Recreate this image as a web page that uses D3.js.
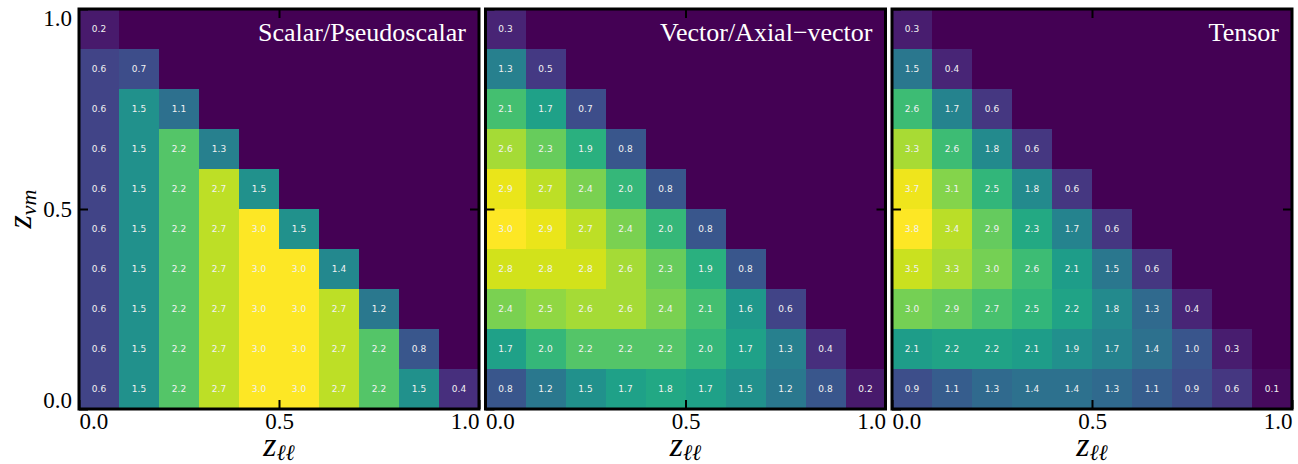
<!DOCTYPE html>
<html>
<head>
<meta charset="utf-8">
<script src="https://cdn.jsdelivr.net/npm/d3@7"></script>
<style>
  body { margin: 0; background: #fff; }
  svg { display: block; }
</style>
</head>
<body>
<div id="chart"></div>
<script>
// panel titles
var titles = ["Scalar/Pseudoscalar", "Vector/Axial\u2212vector", "Tensor"];

// bin edges along both axes (10 bins from 0 to 1)
var binEdges = [0, 0.1, 0.2, 0.3, 0.4, 0.5, 0.6, 0.7, 0.8, 0.9, 1.0];
var tickValues = [0, 0.5, 1];
var tickLabels = ["0.0", "0.5", "1.0"];

// values per row, row 0 = bottom (z_vm 0.0-0.1), columns from z_ll = 0
var scalar = [
  [0.6, 1.5, 2.2, 2.7, 3.0, 3.0, 2.7, 2.2, 1.5, 0.4],
  [0.6, 1.5, 2.2, 2.7, 3.0, 3.0, 2.7, 2.2, 0.8],
  [0.6, 1.5, 2.2, 2.7, 3.0, 3.0, 2.7, 1.2],
  [0.6, 1.5, 2.2, 2.7, 3.0, 3.0, 1.4],
  [0.6, 1.5, 2.2, 2.7, 3.0, 1.5],
  [0.6, 1.5, 2.2, 2.7, 1.5],
  [0.6, 1.5, 2.2, 1.3],
  [0.6, 1.5, 1.1],
  [0.6, 0.7],
  [0.2]
];
var vector = [
  [0.8, 1.2, 1.5, 1.7, 1.8, 1.7, 1.5, 1.2, 0.8, 0.2],
  [1.7, 2.0, 2.2, 2.2, 2.2, 2.0, 1.7, 1.3, 0.4],
  [2.4, 2.5, 2.6, 2.6, 2.4, 2.1, 1.6, 0.6],
  [2.8, 2.8, 2.8, 2.6, 2.3, 1.9, 0.8],
  [3.0, 2.9, 2.7, 2.4, 2.0, 0.8],
  [2.9, 2.7, 2.4, 2.0, 0.8],
  [2.6, 2.3, 1.9, 0.8],
  [2.1, 1.7, 0.7],
  [1.3, 0.5],
  [0.3]
];
var tensor = [
  [0.9, 1.1, 1.3, 1.4, 1.4, 1.3, 1.1, 0.9, 0.6, 0.1],
  [2.1, 2.2, 2.2, 2.1, 1.9, 1.7, 1.4, 1.0, 0.3],
  [3.0, 2.9, 2.7, 2.5, 2.2, 1.8, 1.3, 0.4],
  [3.5, 3.3, 3.0, 2.6, 2.1, 1.5, 0.6],
  [3.8, 3.4, 2.9, 2.3, 1.7, 0.6],
  [3.7, 3.1, 2.5, 1.8, 0.6],
  [3.3, 2.6, 1.8, 0.6],
  [2.6, 1.7, 0.6],
  [1.5, 0.4],
  [0.3]
];
var panels = [scalar, vector, tensor];

var width = 1298, height = 464;
var size = 400;              // plot square
var lefts = [79, 485.5, 892]; // left edge of each panel
var top0 = 9;
var serif = "'Liberation Serif', 'DejaVu Serif', serif";

var svg = d3.select("#chart").append("svg")
  .attr("width", width)
  .attr("height", height);

var x = d3.scaleLinear().domain([0, 1]).range([0, size]);
var y = d3.scaleLinear().domain([0, 1]).range([size, 0]);

panels.forEach(function(rows, p) {
  var g = svg.append("g").attr("transform", "translate(" + lefts[p] + "," + top0 + ")");

  // flatten into cells
  var cells = [];
  rows.forEach(function(row, j) {
    row.forEach(function(v, i) {
      cells.push({ i: i, j: j, v: v });
    });
  });
  var vmax = d3.max(cells, function(d) { return d.v; });
  var color = d3.scaleSequential(d3.interpolateViridis).domain([0, vmax]);

  // empty bins are zero -> bottom of the colour map
  g.append("rect")
    .attr("width", size).attr("height", size)
    .attr("fill", color(0));

  g.selectAll("rect.cell").data(cells).enter().append("rect")
    .attr("class", "cell")
    .attr("x", function(d) { return x(binEdges[d.i]); })
    .attr("y", function(d) { return y(binEdges[d.j + 1]); })
    .attr("width", function(d) { return x(binEdges[d.i + 1]) - x(binEdges[d.i]); })
    .attr("height", function(d) { return y(binEdges[d.j]) - y(binEdges[d.j + 1]); })
    .attr("fill", function(d) { return color(d.v); })
    .attr("shape-rendering", "crispEdges");

  g.selectAll("text.val").data(cells).enter().append("text")
    .attr("class", "val")
    .attr("x", function(d) { return (x(binEdges[d.i]) + x(binEdges[d.i + 1])) / 2; })
    .attr("y", function(d) { return (y(binEdges[d.j]) + y(binEdges[d.j + 1])) / 2; })
    .attr("dy", "0.35em")
    .attr("text-anchor", "middle")
    .style("font-family", "'DejaVu Sans', sans-serif")
    .style("font-size", "9px")
    .style("fill", "#f2f2f2")
    .text(function(d) { return d.v.toFixed(1); });

  // title
  g.append("text")
    .attr("x", size - 13)
    .attr("y", 32)
    .attr("text-anchor", "end")
    .style("font-family", serif)
    .style("font-size", "26px")
    .style("fill", "#fff")
    .text(titles[p]);

  // axes with inward ticks
  var fmt = function(d, k) { return tickLabels[k]; };
  var bottom = g.append("g").attr("transform", "translate(0," + size + ")")
    .call(d3.axisBottom(x).tickValues(tickValues).tickFormat(fmt).tickSize(-9).tickPadding(4));
  bottom.selectAll("text")
    .style("font-family", serif).style("font-size", "23px").style("fill", "#000")
    .attr("text-anchor", function(d, k) { return k === 0 ? "start" : (k === 2 ? "end" : "middle"); });

  var topAx = g.append("g")
    .call(d3.axisTop(x).tickValues([0.5]).tickFormat("").tickSize(-9));
  var rightAx = g.append("g").attr("transform", "translate(" + size + ",0)")
    .call(d3.axisRight(y).tickValues([0.5]).tickFormat("").tickSize(-9));
  var leftAx = g.append("g")
    .call(d3.axisLeft(y).tickValues(tickValues).tickFormat(p === 0 ? fmt : "").tickSize(-9).tickPadding(7));
  leftAx.selectAll("text")
    .style("font-family", serif).style("font-size", "23px").style("fill", "#000")
    .attr("dy", function(d, k) { return k === 0 ? "-0.05em" : (k === 2 ? "0.72em" : "0.32em"); });

  [bottom, topAx, rightAx, leftAx].forEach(function(a) {
    a.select(".domain").remove();
    a.selectAll(".tick line").attr("stroke", "#000").attr("stroke-width", 2);
  });

  // frame
  g.append("rect")
    .attr("width", size).attr("height", size)
    .attr("fill", "none")
    .attr("stroke", "#000")
    .attr("stroke-width", 3);

  // x label
  var xl = g.append("text")
    .attr("x", size / 2)
    .attr("y", 447)
    .attr("text-anchor", "middle")
    .style("font-family", serif)
    .style("font-size", "34px")
    .style("font-style", "italic");
  xl.append("tspan").text("z");
  xl.append("tspan").attr("dy", 4).style("font-size", "22px").text("\u2113\u2113");
});

// y label (left panel only)
var yl = svg.append("text")
  .attr("transform", "translate(31," + (top0 + size / 2) + ") rotate(-90)")
  .attr("text-anchor", "middle")
  .style("font-family", serif)
  .style("font-size", "34px")
  .style("font-style", "italic");
yl.append("tspan").text("z");
yl.append("tspan").attr("dy", 5).style("font-size", "22px").text("\u03bdm");
</script>
</body>
</html>
